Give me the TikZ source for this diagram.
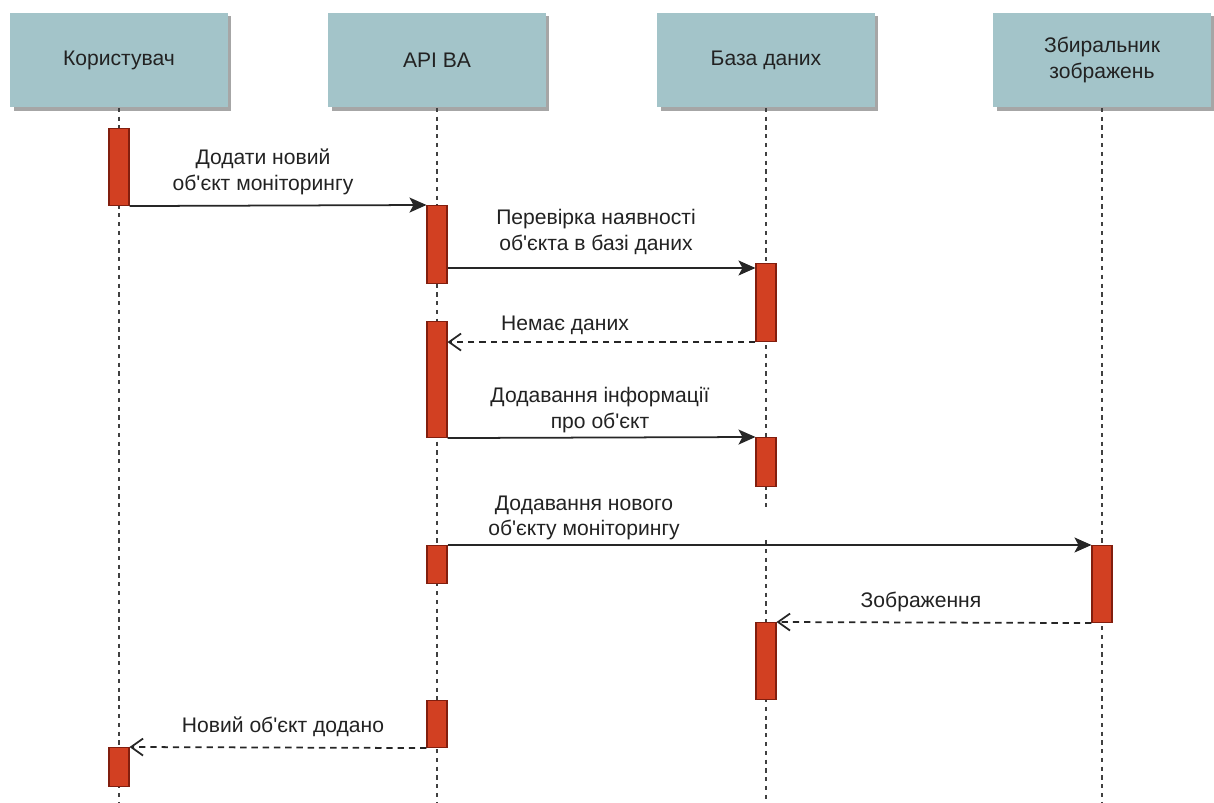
\documentclass[tikz,border=0pt]{standalone}
\usepackage{fontspec}
\setmainfont{Liberation Sans}[Ligatures=TeXOff]
\usetikzlibrary{arrows.meta,shadows}
\definecolor{hdrfill}{RGB}{163,196,201}
\definecolor{barfill}{RGB}{210,64,34}
\definecolor{barline}{RGB}{130,30,14}
\definecolor{txt}{RGB}{34,34,34}
\begin{document}
\begin{tikzpicture}[x=0.02cm,y=-0.02cm,
 hdr/.style={fill=hdrfill,minimum width=4.36cm,minimum height=1.9cm,align=center,
  text=txt,font=\fontsize{12}{14.5}\selectfont,
  drop shadow={shadow xshift=0.07cm,shadow yshift=-0.07cm,fill=black!35,opacity=1}},
 life/.style={line width=1.2pt,black!75,dash pattern=on 2.4pt off 2.6pt},
 bar/.style={draw=barline,fill=barfill,line width=0.6pt,minimum width=0.4cm,anchor=north,inner sep=0pt},
 call/.style={line width=1pt,black!85,-{Stealth[length=0.34cm,width=0.3cm,inset=0.08cm]}},
 reply/.style={line width=1pt,black!85,dash pattern=on 3.6pt off 2.8pt,
  -{Straight Barb[length=0.24cm,width=0.34cm,line width=1pt]}},
 lbl/.style={align=center,text=txt,font=\fontsize{12}{14.5}\selectfont,inner sep=0pt}]
\useasboundingbox (0,0) rectangle (1214,803);
% headers
\node[hdr] (user) at (119,60) {Користувач};
\node[hdr] (api) at (437,60) {API BA};
\node[hdr] (db) at (766,60) {База даних};
\node[hdr] (col) at (1102,60) {Збиральник\\зображень};
% lifelines
\coordinate (ue) at (119,803);
\coordinate (ae) at (437,803);
\coordinate (dm) at (766,510);
\coordinate (dr) at (766,540);
\coordinate (de) at (766,803);
\coordinate (ce) at (1102,803);
\draw[life] (user.south) -- (ue);
\draw[life] (api.south) -- (ae);
\draw[life] (db.south) -- (dm);
\draw[life] (dr) -- (de);
\draw[life] (col.south) -- (ce);
% activation bars
\node[bar,minimum height=77*0.02cm] (u1) at (119,128) {};
\node[bar,minimum height=78*0.02cm] (a1) at (437,205) {};
\node[bar,minimum height=78*0.02cm] (d1) at (766,263) {};
\node[bar,minimum height=116*0.02cm] (a2) at (437,321) {};
\node[bar,minimum height=49*0.02cm] (d2) at (766,437) {};
\node[bar,minimum height=38*0.02cm] (a3) at (437,545) {};
\node[bar,minimum height=77*0.02cm] (c1) at (1102,545) {};
\node[bar,minimum height=77*0.02cm] (d3) at (766,622) {};
\node[bar,minimum height=47*0.02cm] (a4) at (437,700) {};
\node[bar,minimum height=39*0.02cm] (u2) at (119,747) {};
% messages
\coordinate (m2) at (0,268);
\draw[call] (u1.south east) -- (a1.north west);
\draw[call] (a1.east |- m2) -- (d1.west |- m2);
\draw[reply] (d1.south west) -- (a2.east |- d1.south west);
\draw[call] (a2.south east) -- (d2.north west);
\draw[call] (a3.north east) -- (c1.north west);
\draw[reply] (c1.south west) -- (d3.north east);
\draw[reply] (a4.south west) -- (u2.north east);
% labels
\node[lbl] (t1) at (263,172) {Додати новий\\об'єкт моніторингу};
\node[lbl] (t2) at (596,232) {Перевірка наявності\\об'єкта в базі даних};
\node[lbl] (t3) at (565,325) {Немає даних};
\node[lbl] (t4) at (600,410) {Додавання інформації\\про об'єкт};
\node[lbl] (t5) at (584,518) {Додавання нового\\об'єкту моніторингу};
\node[lbl] (t6) at (921,602) {Зображення};
\node[lbl] (t7) at (283,727) {Новий об'єкт додано};
\end{tikzpicture}
\end{document}
